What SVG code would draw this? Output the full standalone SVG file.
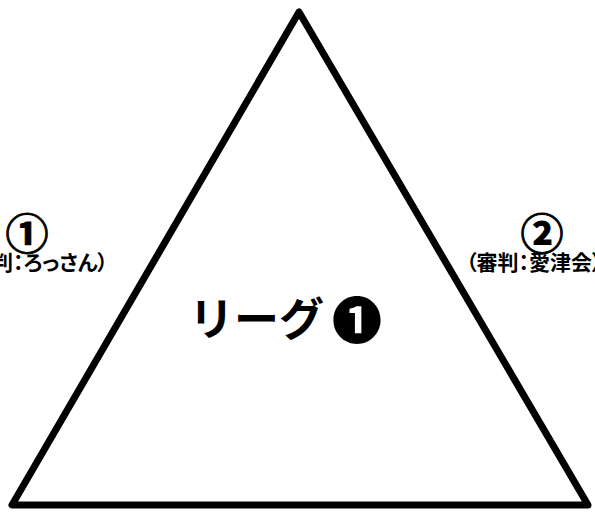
<svg xmlns="http://www.w3.org/2000/svg" width="595" height="512" viewBox="0 0 595 512">
<style>
.t{font-family:"Noto Sans CJK JP","Noto Sans",sans-serif;font-weight:bold;fill:#000}
.num{font-size:43px;text-anchor:middle;stroke:#000;stroke-width:1}
.sub{font-size:21px;font-feature-settings:"palt"}
</style>
<rect width="595" height="512" fill="#fff"/>
<g id="triangle">
<polygon points="299,12 12,505 588,505" fill="none" stroke="#000" stroke-width="7" stroke-linejoin="round"/>
</g>
<g id="label-center">
<text class="t" x="189" y="336" font-size="45">リーグ</text>
<text class="t" x="357" y="339" font-size="50" text-anchor="middle">❶</text>
</g>
<g id="label-left">
<text class="t num" x="27" y="250">①</text>
<text class="t sub" x="108" y="270" text-anchor="end">（審判：ろっさん）</text>
</g>
<g id="label-right">
<text class="t num" x="542" y="250">②</text>
<text class="t sub" x="466" y="270">（審判：愛津会）</text>
</g>
</svg>
